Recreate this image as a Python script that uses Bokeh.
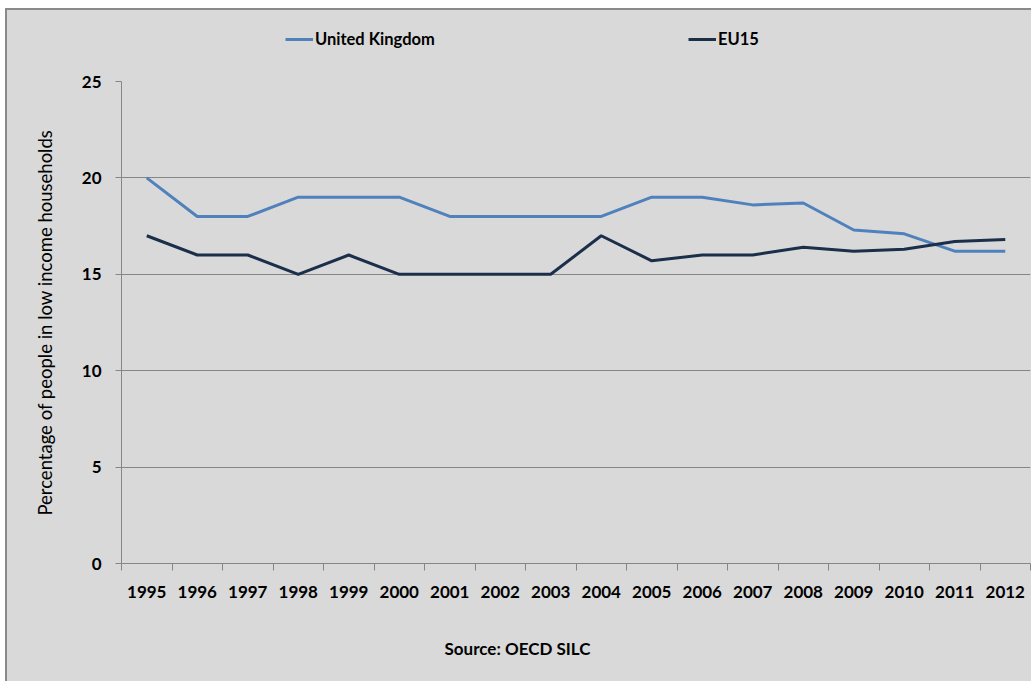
from bokeh.plotting import figure
from bokeh.layouts import column
from bokeh.models import Range1d, FixedTicker, Legend, LegendItem, Label
from bokeh.embed import file_html
from bokeh.resources import INLINE

years = list(range(1995, 2013))
year_labels = [str(y) for y in years]
uk = [20, 18, 18, 19, 19, 19, 18, 18, 18, 18, 19, 19, 18.6, 18.7, 17.3, 17.1, 16.2, 16.2]
eu15 = [17, 16, 16, 15, 16, 15, 15, 15, 15, 17, 15.7, 16.0, 16.0, 16.4, 16.2, 16.3, 16.7, 16.8]
y_ticks = [0, 5, 10, 15, 20, 25]
source_text = "Source: OECD SILC"

BG = "#d9d9d9"
GRID = "#868686"
FONT = "Lato"
UK_COLOR = "#4f81bd"
EU_COLOR = "#1b2f4b"

W = 1024
H_TOP, H_MAIN, H_SRC = 59, 541, 71
TOP, BOTTOM, LEFT, RIGHT = 12, 47, 114, 1
X0, X1 = years[0] - 0.5, years[-1] + 0.5


def strip(height, y_range):
    f = figure(width=W, height=height, output_backend="svg", toolbar_location=None,
               x_axis_type=None, y_axis_type=None,
               x_range=Range1d(X0, X1), y_range=y_range,
               min_border_left=LEFT, min_border_right=RIGHT, min_border_top=0,
               min_border_bottom=0)
    f.background_fill_color = BG
    f.border_fill_color = BG
    f.outline_line_color = None
    f.grid.grid_line_color = None
    return f


# ---- legend strip (own frame, so the legend is not clipped) ----
top = strip(H_TOP, Range1d(100, 101))
t_uk = top.line(years, uk, line_color=UK_COLOR, line_width=3)
t_eu = top.line(years, eu15, line_color=EU_COLOR, line_width=3)

legend = Legend(items=[LegendItem(label="United Kingdom", renderers=[t_uk]),
                       LegendItem(label="EU15", renderers=[t_eu])],
                location=(285 - 121, H_TOP - (41 - 10) - 8), orientation="horizontal",
                padding=0, margin=0, spacing=0, border_line_color=None,
                background_fill_alpha=0, glyph_width=28, glyph_height=16,
                label_height=16, label_standoff=2, label_width=688 - 285 - 30,
                label_text_font=FONT, label_text_font_style="bold",
                label_text_font_size="16.5px", label_text_color="black")
top.add_layout(legend, "center")

# ---- main chart ----
p = figure(width=W, height=H_MAIN, output_backend="svg", toolbar_location=None,
           x_range=Range1d(X0, X1), y_range=Range1d(0, 25),
           min_border_left=LEFT, min_border_right=RIGHT, min_border_top=TOP,
           min_border_bottom=BOTTOM)
p.background_fill_color = BG
p.border_fill_color = BG
p.outline_line_color = None

p.line(years, uk, line_color=UK_COLOR, line_width=3)
p.line(years, eu15, line_color=EU_COLOR, line_width=3)

xa = p.xaxis[0]
xa.ticker = FixedTicker(ticks=years, minor_ticks=[y - 0.5 for y in years] + [years[-1] + 0.5])
xa.major_label_overrides = {y: l for y, l in zip(years, year_labels)}
xa.major_tick_out = 0
xa.major_tick_in = 0
xa.minor_tick_out = 7
xa.minor_tick_in = 0
xa.minor_tick_line_color = GRID
xa.axis_line_color = GRID
xa.major_label_standoff = 15
xa.major_label_text_font = FONT
xa.major_label_text_font_style = "bold"
xa.major_label_text_font_size = "17px"
xa.major_label_text_color = "black"

ya = p.yaxis[0]
ya.ticker = FixedTicker(ticks=y_ticks, minor_ticks=[])
ya.major_tick_out = 6
ya.major_tick_in = 0
ya.major_tick_line_color = GRID
ya.axis_line_color = GRID
ya.major_label_standoff = 14
ya.major_label_text_font = FONT
ya.major_label_text_font_style = "bold"
ya.major_label_text_font_size = "17px"
ya.major_label_text_color = "black"
ya.axis_label = "Percentage of people in low income households"
ya.axis_label_text_font = FONT
ya.axis_label_text_font_style = "normal"
ya.axis_label_text_font_size = "18.5px"
ya.axis_label_text_color = "black"
ya.axis_label_standoff = 23

p.xgrid.grid_line_color = None
p.ygrid.grid_line_color = GRID
p.ygrid.grid_line_width = 1

# ---- source strip ----
src_fig = strip(H_SRC, Range1d(0, H_SRC))
src = Label(x=X0 + (517 - 121) / ((1030 - 121) / (X1 - X0)), y=H_SRC - (648 - 610),
            text=source_text, text_align="center", text_baseline="middle",
            text_font=FONT, text_font_style="bold", text_font_size="17px",
            text_color="black")
src_fig.add_layout(src)

layout = column(top, p, src_fig, spacing=0)
layout.styles = {"margin-left": "5px", "margin-top": "8px", "background-color": BG,
                 "border-left": "2px solid #8a8a8a", "border-top": "2px solid #8a8a8a"}

open("out.html", "w").write(file_html(layout, INLINE))
